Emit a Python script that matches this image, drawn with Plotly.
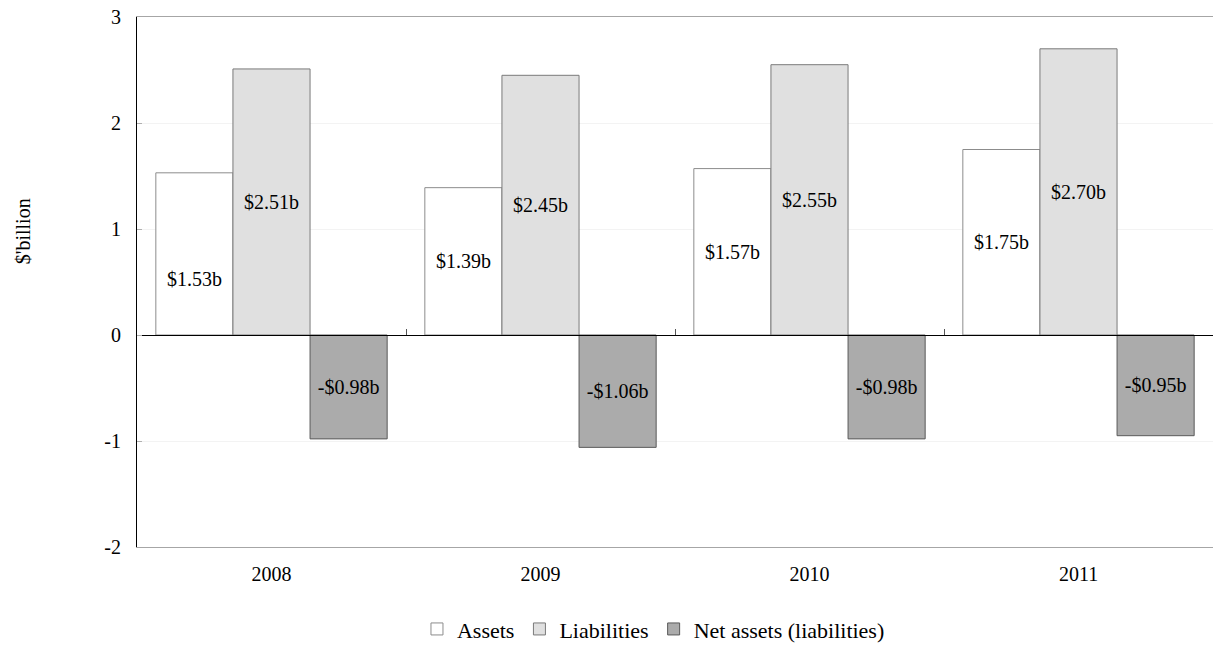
import plotly.graph_objects as go

years = ["2008", "2009", "2010", "2011"]
assets = [1.53, 1.39, 1.57, 1.75]
liabilities = [2.51, 2.45, 2.55, 2.70]
net_assets = [-0.98, -1.06, -0.98, -0.95]
y_ticks = [-2, -1, 0, 1, 2, 3]
y_tick_text = ["-2", "-1", "0", "1", "2", "3"]

FONT = "Times New Roman, Liberation Serif, serif"
TXT = 20


def money(v):
    return ("-$%.2fb" % abs(v)) if v < 0 else ("$%.2fb" % v)


fig = go.Figure()

series = [
    ("Assets", assets, "#ffffff", "#8c8c8c"),
    ("Liabilities", liabilities, "#e0e0e0", "#7a7a7a"),
    ("Net assets (liabilities)", net_assets, "#ababab", "#5a5a5a"),
]
for name, vals, fill, edge in series:
    texts = [money(v) for v in vals]
    if name == "Assets":
        # first label sits lower in its bar; drawn separately below
        texts[0] = ""
    fig.add_trace(go.Bar(
        x=years, y=vals, name=name,
        marker=dict(color=fill, line=dict(color=edge, width=1)),
        text=texts, textposition="inside", insidetextanchor="middle",
        textfont=dict(family=FONT, size=TXT, color="#000000"),
        textangle=0, cliponaxis=False, hoverinfo="skip",
    ))

# empty trace so the zero-level axis (category boundary ticks) is drawn
fig.add_trace(go.Scatter(x=[], y=[], xaxis="x2", showlegend=False,
                         hoverinfo="skip"))

fig.add_annotation(
    x=0, y=assets[0] / 2, xref="x", yref="y",
    text=money(assets[0]), showarrow=False, xshift=-77, yshift=-25,
    font=dict(family=FONT, size=TXT, color="#000000"),
)

fig.add_annotation(
    x=-0.118, y=0.596, xref="paper", yref="paper", text="$'billion",
    textangle=-90, showarrow=False,
    font=dict(family=FONT, size=TXT, color="#000000"),
)

fig.update_layout(
    width=1213, height=654,
    margin=dict(l=137, r=0, t=17, b=107),
    paper_bgcolor="#ffffff", plot_bgcolor="#ffffff",
    barmode="group", bargap=0.14, bargroupgap=0,
    font=dict(family=FONT, size=TXT, color="#000000"),
    showlegend=True,
    legend=dict(
        orientation="h", x=0.48, xanchor="center", y=-0.155, yanchor="middle",
        font=dict(family=FONT, size=22, color="#000000"),
        itemwidth=30, tracegroupgap=0,
    ),
    xaxis=dict(
        type="category", categoryorder="array", categoryarray=years,
        range=[-0.5, 3.5],
        showline=True, linecolor="#a6a6a6", linewidth=1, mirror=True,
        ticks="", showgrid=False, zeroline=False,
        tickfont=dict(family=FONT, size=TXT, color="#000000"),
        ticklabelstandoff=9,
    ),
    xaxis2=dict(
        overlaying="x", anchor="free", position=0.4,
        range=[-0.5, 3.5], tickvals=[0.5, 1.5, 2.5],
        ticks="inside", ticklen=6, tickcolor="#555555",
        showticklabels=False, showgrid=False, zeroline=False,
        showline=True, linecolor="#000000", linewidth=1,
    ),
    yaxis=dict(
        range=[-2, 3], tickvals=y_ticks, ticktext=y_tick_text,
        showline=True, linecolor="#000000", linewidth=1,
        ticks="inside", ticklen=5, tickcolor="#b0b0b0",
        showgrid=True, gridcolor="#f3f3f3", gridwidth=1,
        zeroline=True, zerolinecolor="#000000", zerolinewidth=1,
        tickfont=dict(family=FONT, size=TXT, color="#000000"),
        ticklabelstandoff=11,
    ),
)

fig.write_html("out.html")
